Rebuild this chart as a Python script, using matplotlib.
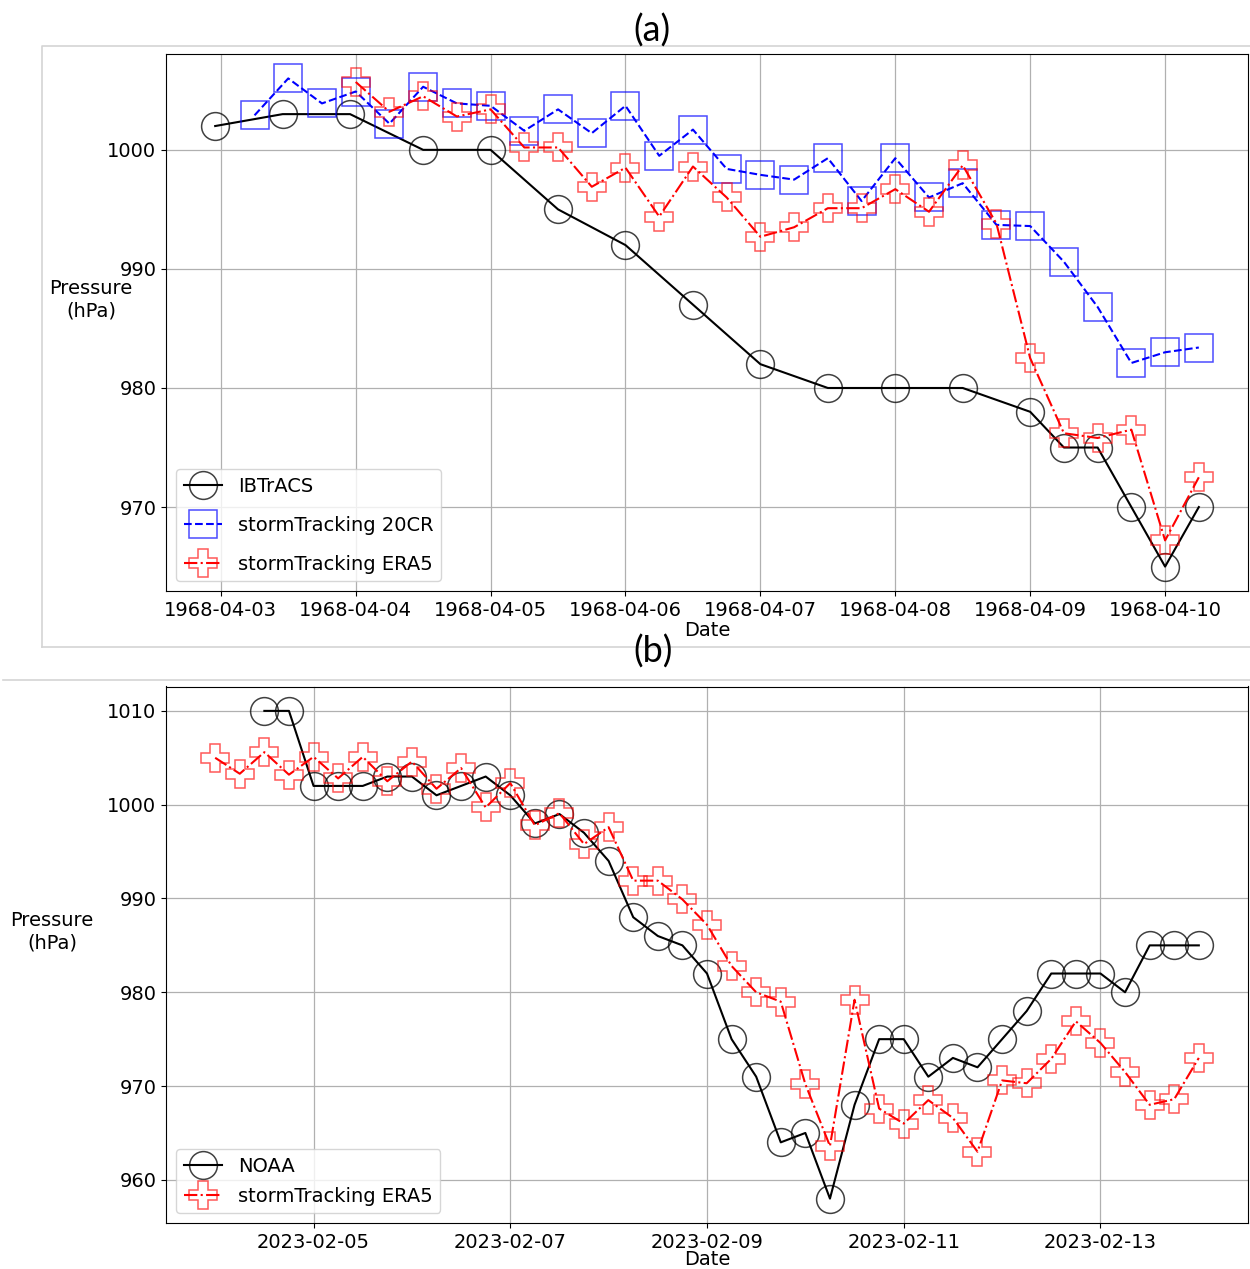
import matplotlib
matplotlib.use('Agg')
import matplotlib.pyplot as plt
import matplotlib.dates as mdates
import pandas as pd
from matplotlib.lines import Line2D

# ---------------- data: panel (a) ----------------
ibtracs_time = ['1968-04-02 23:00', '1968-04-03 11:00', '1968-04-03 23:00',
                '1968-04-04 12:00', '1968-04-05 00:00', '1968-04-05 12:00',
                '1968-04-06 00:00', '1968-04-06 12:00', '1968-04-07 00:00',
                '1968-04-07 12:00', '1968-04-08 00:00', '1968-04-08 12:00',
                '1968-04-09 00:00', '1968-04-09 06:00', '1968-04-09 12:00',
                '1968-04-09 18:00', '1968-04-10 00:00', '1968-04-10 06:00']
ibtracs_p = [1002, 1003, 1003, 1000, 1000, 995, 992, 987, 982, 980, 980, 980,
             978, 975, 975, 970, 965, 970]

cr20_start = '1968-04-03 06:00'
cr20_p = [1002.9, 1006.0, 1003.9, 1004.9, 1002.2, 1005.3, 1003.9, 1003.7,
          1001.6, 1003.4, 1001.4, 1003.7, 999.5, 1001.7, 998.4, 997.9, 997.5,
          999.3, 995.7, 999.3, 996.0, 997.2, 993.7, 993.6, 990.6, 986.8,
          982.1, 983.0, 983.4]

era5a_start = '1968-04-04 00:00'
era5a_p = [1005.7, 1003.2, 1004.5, 1002.8, 1003.4, 1000.2, 1000.2, 996.9,
           998.5, 994.4, 998.6, 996.0, 992.7, 993.5, 995.1, 995.1, 996.7,
           994.8, 998.7, 993.8, 982.5, 976.2, 975.8, 976.5, 967.2, 972.5]

# ---------------- data: panel (b) ----------------
noaa_start = '2023-02-04 12:00'
noaa_p = [1010, 1010, 1002, 1002, 1002, 1003, 1003, 1001, 1002, 1003, 1001,
          998, 999, 997, 994, 988, 986, 985, 982, 975, 971, 964, 965, 958,
          968, 975, 975, 971, 973, 972, 975, 978, 982, 982, 982, 980, 985,
          985, 985]

era5b_start = '2023-02-04 00:00'
era5b_p = [1005.0, 1003.3, 1005.6, 1003.2, 1005.1, 1002.8, 1005.1, 1002.5,
           1004.6, 1001.7, 1003.9, 999.7, 1002.3, 997.8, 999.1, 995.8, 997.6,
           991.9, 991.9, 989.9, 987.2, 982.8, 980.0, 979.0, 970.2, 963.6,
           979.2, 967.6, 966.0, 968.5, 966.6, 963.0, 970.6, 970.3, 972.9,
           976.9, 974.6, 971.5, 968.0, 968.6, 973.0]

labels_a = ['IBTrACS', 'stormTracking 20CR', 'stormTracking ERA5']
labels_b = ['NOAA', 'stormTracking ERA5']

t_ib = pd.to_datetime(ibtracs_time)
t_cr = pd.date_range(cr20_start, periods=len(cr20_p), freq='6h')
t_ea = pd.date_range(era5a_start, periods=len(era5a_p), freq='6h')
t_no = pd.date_range(noaa_start, periods=len(noaa_p), freq='6h')
t_eb = pd.date_range(era5b_start, periods=len(era5b_p), freq='6h')

W, H = 1250, 1269
fig = plt.figure(figsize=(W / 100, H / 100), dpi=100)
plt.rcParams['font.family'] = ['DejaVu Sans']


def fx(px):
    return px / W


def fy(py):
    return 1 - py / H


axa = fig.add_axes([fx(166), fy(591), (1248 - 166) / W, (591 - 54) / H])
axb = fig.add_axes([fx(166), fy(1223), (1248 - 166) / W, (1223 - 686.5) / H])

MS = 20
black_m = (0, 0, 0, 0.75)
blue_m = (0, 0, 1, 0.7)
red_m = (1, 0, 0, 0.65)

axa.plot(t_ib, ibtracs_p, color='black', ls='-', lw=1.5, marker='o', ms=MS,
         mfc='none', mec=black_m, mew=1.1, label=labels_a[0])
axa.plot(t_cr, cr20_p, color='blue', ls='--', lw=1.5, marker='s', ms=MS,
         mfc='none', mec=blue_m, mew=1.1, label=labels_a[1])
axa.plot(t_ea, era5a_p, color='red', ls='-.', lw=1.5, marker='P', ms=MS,
         mfc='none', mec=red_m, mew=1.1, label=labels_a[2])

axb.plot(t_no, noaa_p, color='black', ls='-', lw=1.5, marker='o', ms=MS,
         mfc='none', mec=black_m, mew=1.1, label=labels_b[0])
axb.plot(t_eb, era5b_p, color='red', ls='-.', lw=1.5, marker='P', ms=MS,
         mfc='none', mec=red_m, mew=1.1, label=labels_b[1])

fmt = mdates.DateFormatter('%Y-%m-%d')
axa.xaxis.set_major_locator(mdates.DayLocator())
axa.xaxis.set_major_formatter(fmt)
axb.xaxis.set_major_locator(mdates.DayLocator(bymonthday=range(1, 32, 2)))
axb.xaxis.set_major_formatter(fmt)

for ax in (axa, axb):
    ax.grid(True, color='#b0b0b0', lw=0.9)
    ax.tick_params(labelsize=14)
    ax.set_ylabel('Pressure\n(hPa)', fontsize=14, rotation=0,
                  ha='center', va='center')

axa.set_xlabel('Date', fontsize=14, labelpad=1)
axb.set_xlabel('Date', fontsize=14, labelpad=-1)

axa.yaxis.set_label_coords((91 - 166) / 1082, (591 - 300) / 537)
axb.yaxis.set_label_coords((52 - 166) / 1082, (1223 - 932) / 536.5)

axa.legend(loc='lower left', fontsize=14, labelspacing=1.02)
axb.legend(loc='lower left', fontsize=14, labelspacing=0.55)

# panel titles and frames (composite-figure decorations)
fig.text(fx(652), fy(31), '(a)', fontsize=26, family=['Lato', 'DejaVu Sans'],
         ha='center', va='center')
fig.text(fx(653), fy(652), '(b)', fontsize=26, family=['Lato', 'DejaVu Sans'],
         ha='center', va='center')

frame_c = '#d4d4d4'
fig.add_artist(Line2D([fx(42), fx(42), fx(1250)], [fy(647), fy(46), fy(46)],
                      transform=fig.transFigure, color=frame_c, lw=1.2))
fig.add_artist(Line2D([fx(42), fx(1250)], [fy(647), fy(647)],
                      transform=fig.transFigure, color=frame_c, lw=1.2))
fig.add_artist(Line2D([fx(3), fx(1250)], [fy(679.5), fy(679.5)],
                      transform=fig.transFigure, color=frame_c, lw=1.2))

fig.savefig('out.png', dpi=100)
